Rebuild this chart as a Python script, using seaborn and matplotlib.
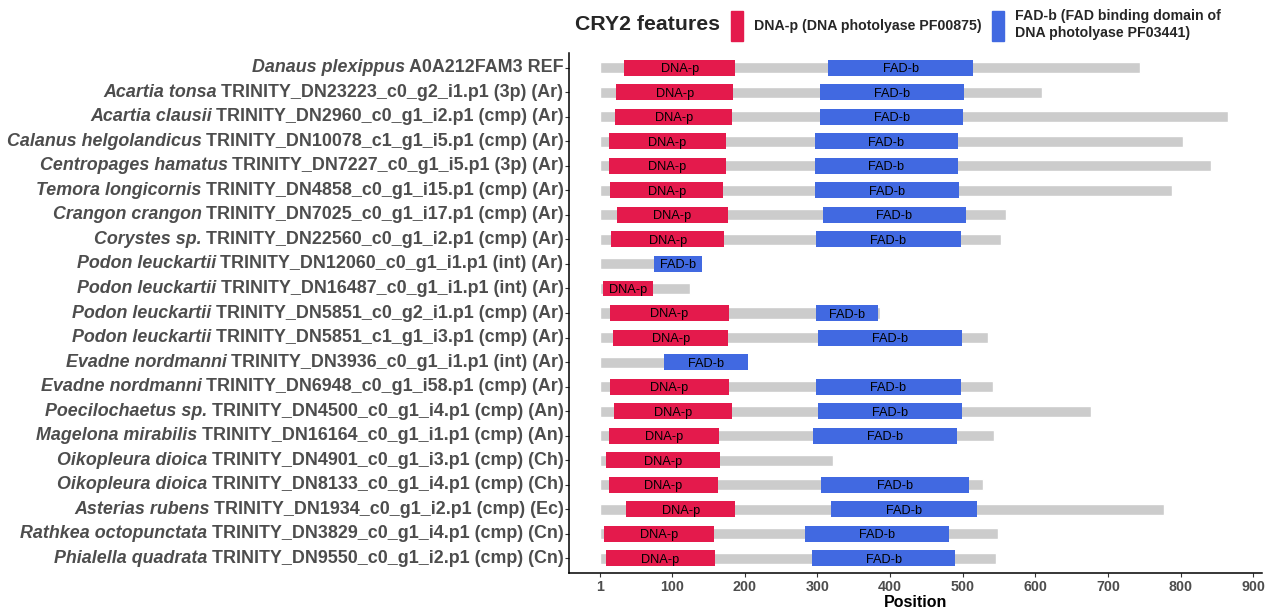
import matplotlib
matplotlib.use("Agg")
import matplotlib.pyplot as plt
from matplotlib.patches import Patch
from matplotlib.offsetbox import TextArea, HPacker, AnnotationBbox
import pandas as pd
import seaborn as sns

# protein rows, top to bottom
species = [
    "Danaus plexippus", "Acartia tonsa", "Acartia clausii", "Calanus helgolandicus",
    "Centropages hamatus", "Temora longicornis", "Crangon crangon", "Corystes sp.",
    "Podon leuckartii", "Podon leuckartii", "Podon leuckartii", "Podon leuckartii",
    "Evadne nordmanni", "Evadne nordmanni", "Poecilochaetus sp.", "Magelona mirabilis",
    "Oikopleura dioica", "Oikopleura dioica", "Asterias rubens", "Rathkea octopunctata",
    "Phialella quadrata",
]
seq_ids = [
    "A0A212FAM3 REF",
    "TRINITY_DN23223_c0_g2_i1.p1 (3p) (Ar)",
    "TRINITY_DN2960_c0_g1_i2.p1 (cmp) (Ar)",
    "TRINITY_DN10078_c1_g1_i5.p1 (cmp) (Ar)",
    "TRINITY_DN7227_c0_g1_i5.p1 (3p) (Ar)",
    "TRINITY_DN4858_c0_g1_i15.p1 (cmp) (Ar)",
    "TRINITY_DN7025_c0_g1_i17.p1 (cmp) (Ar)",
    "TRINITY_DN22560_c0_g1_i2.p1 (cmp) (Ar)",
    "TRINITY_DN12060_c0_g1_i1.p1 (int) (Ar)",
    "TRINITY_DN16487_c0_g1_i1.p1 (int) (Ar)",
    "TRINITY_DN5851_c0_g2_i1.p1 (cmp) (Ar)",
    "TRINITY_DN5851_c1_g1_i3.p1 (cmp) (Ar)",
    "TRINITY_DN3936_c0_g1_i1.p1 (int) (Ar)",
    "TRINITY_DN6948_c0_g1_i58.p1 (cmp) (Ar)",
    "TRINITY_DN4500_c0_g1_i4.p1 (cmp) (An)",
    "TRINITY_DN16164_c0_g1_i1.p1 (cmp) (An)",
    "TRINITY_DN4901_c0_g1_i3.p1 (cmp) (Ch)",
    "TRINITY_DN8133_c0_g1_i4.p1 (cmp) (Ch)",
    "TRINITY_DN1934_c0_g1_i2.p1 (cmp) (Ec)",
    "TRINITY_DN3829_c0_g1_i4.p1 (cmp) (Cn)",
    "TRINITY_DN9550_c0_g1_i2.p1 (cmp) (Cn)",
]
lengths = [744, 609, 865, 803, 842, 788, 559, 553, 141, 125, 386, 535,
           205, 541, 676, 543, 322, 528, 777, 548, 546]

# domain hits (None = not found)
dna_start = [34, 23, 22, 13, 13, 15, 24, 16, None, 5, 15, 19,
             None, 15, 20, 13, 9, 13, 37, 6, 9]
dna_end = [187, 184, 183, 174, 174, 170, 177, 172, None, 73, 178, 177,
           None, 178, 183, 165, 166, 163, 187, 158, 159]
fad_start = [315, 304, 304, 296, 296, 297, 307, 298, 75, None, 298, 301,
             89, 298, 301, 294, None, 305, 319, 283, 293]
fad_end = [514, 502, 501, 494, 494, 495, 505, 497, 141, None, 384, 499,
           205, 497, 499, 492, None, 509, 519, 481, 490]

x_ticks = [1, 100, 200, 300, 400, 500, 600, 700, 800, 900]

RED = "#E41A4C"
BLUE = "#4169E1"
GREY = "#CCCCCC"
TXT = "#4D4D4D"

sns.set_theme(style="white")
plt.rcParams["font.family"] = ["Liberation Sans", "DejaVu Sans"]

df = pd.DataFrame({"label": [f"{s} {i}" for s, i in zip(species, seq_ids)],
                   "length": lengths})

fig = plt.figure(figsize=(12.75, 6.08), dpi=100)
ax = fig.add_axes([569 / 1275, 35 / 608, 693 / 1275, 520 / 608])

sns.barplot(data=df, x="length", y="label", color=GREY, width=0.45,
            saturation=1, orient="h", ax=ax)

for i in range(len(species)):
    for st, en, col, name in [(dna_start[i], dna_end[i], RED, "DNA-p"),
                              (fad_start[i], fad_end[i], BLUE, "FAD-b")]:
        if st is None:
            continue
        ax.barh(i, en - st, left=st, height=0.65, color=col, linewidth=0)
        ax.text((st + en) / 2, i, name, ha="center", va="center_baseline",
                fontsize=9.2, color="black")

ax.set_xlim(-42, 912)
ax.set_ylim(20.6, -0.6)
ax.set_xticks(x_ticks)
ax.set_xticklabels([str(t) for t in x_ticks], color=TXT, fontweight="bold", fontsize=10.3)
ax.set_yticks(range(len(species)))
ax.set_yticklabels([""] * len(species))
ax.tick_params(axis="x", length=3, width=0.8, color="#333333", pad=2, bottom=True)
ax.tick_params(axis="y", length=3, width=0.8, color="#333333", left=True)
ax.set_xlabel("Position", fontsize=11.5, fontweight="bold", color="black", labelpad=1)
ax.set_ylabel("")
for side in ["top", "right"]:
    ax.spines[side].set_visible(False)
for side in ["left", "bottom"]:
    ax.spines[side].set_color("black")
    ax.spines[side].set_linewidth(1.1)

# y labels: italic species name + plain id
for i, (s, sid) in enumerate(zip(species, seq_ids)):
    box = HPacker(children=[
        TextArea(s, textprops=dict(fontstyle="italic", fontweight="bold", color=TXT, fontsize=12.9)),
        TextArea(sid, textprops=dict(fontweight="bold", color=TXT, fontsize=12.9)),
    ], align="baseline", pad=0, sep=3)
    ab = AnnotationBbox(box, (0, i), xycoords=ax.get_yaxis_transform(),
                        xybox=(-4, 0), boxcoords="offset points",
                        box_alignment=(1, 0.5), frameon=False, pad=0,
                        annotation_clip=False)
    ax.add_artist(ab)

# legend
fig.text(575 / 1275, 1 - 25 / 608, "CRY2 features", ha="left", va="center",
         fontsize=15.3, fontweight="bold")
handles = [Patch(color=RED, label="DNA-p (DNA photolyase PF00875)"),
           Patch(color=BLUE, label="FAD-b (FAD binding domain of\nDNA photolyase PF03441)")]
fig.legend(handles=handles, loc="center left", bbox_to_anchor=(731 / 1275, 1 - 25 / 608),
           ncol=2, frameon=False, handlelength=0.85, handleheight=2.8,
           handletextpad=0.75, columnspacing=0.75, borderpad=0, borderaxespad=0,
           prop={"weight": "bold", "size": 10.2})

fig.savefig("out.png", dpi=100)
